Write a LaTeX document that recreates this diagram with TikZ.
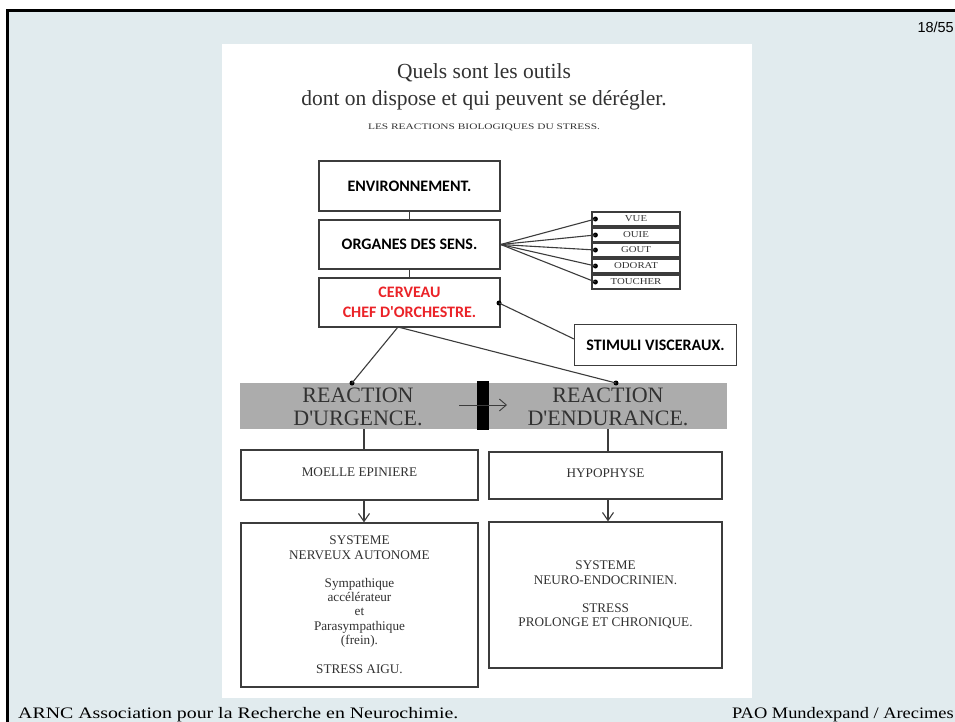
\documentclass[tikz,border=0pt]{standalone}
\usepackage{fontspec}
\usepackage{graphicx}
\setmainfont{Liberation Serif}
\newfontfamily\calibf{Carlito}
\newfontfamily\arialf{Liberation Sans}
\usetikzlibrary{arrows.meta,calc}
\definecolor{slidebg}{RGB}{225,235,238}
\definecolor{bandgray}{RGB}{172,172,172}
\definecolor{boxline}{RGB}{60,60,60}
\definecolor{inkgray}{RGB}{50,50,50}
\definecolor{alertred}{RGB}{235,35,40}
\newcommand{\apos}{\textquotesingle}
\newcommand{\widetext}[2]{\scalebox{#1}[1]{#2}}
\begin{document}
\begin{tikzpicture}[x=1pt,y=-1pt,
  box/.style={draw=boxline, line width=1.4pt, fill=white, inner sep=0pt, align=center},
  bigbox/.style={box, minimum width=181pt, minimum height=49pt,
    font=\calibf\bfseries\fontsize{16}{20}\selectfont},
  sensebox/.style={box, line width=1.2pt, minimum width=88pt, minimum height=14pt,
    text=inkgray, font=\fontsize{9}{10}\selectfont},
  lowbox/.style={box, line width=1.2pt, text=inkgray, font=\fontsize{13.2}{14.2}\selectfont},
  bandtext/.style={inner sep=0pt, align=center, text=inkgray, font=\fontsize{22}{23}\selectfont},
  wire/.style={draw=boxline, line width=1.1pt},
  dot/.style={circle, fill=black, inner sep=0pt, minimum size=5pt},
  varrow/.style={wire, -{Straight Barb[length=8pt,width=11pt,line width=1.1pt]}}
]
\useasboundingbox (0,0) rectangle (955,722);
% slide background and frame
\fill[white] (0,0) rectangle (955,722);
\fill[slidebg] (7,11) rectangle (955,722);
\draw[black, line width=3pt] (7,722) -- (7,11) -- (955,11);
\node[anchor=east, inner sep=0pt, font=\arialf\fontsize{14.5}{16}\selectfont] (pagenum) at (954,27) {18/55};
% white page
\fill[white] (222,44) rectangle (752,698);
% title
\node[inner sep=0pt, align=center, text=inkgray, font=\fontsize{21.5}{27}\selectfont] (title) at (484,87)
  {Quels sont les outils\\dont on dispose et qui peuvent se dérégler.};
\node[inner sep=0pt, text=inkgray, font=\fontsize{8.5}{10}\selectfont] (subtitle) at (484,127)
  {\widetext{1.34}{LES REACTIONS BIOLOGIQUES DU STRESS.}};
% main chain
\node[bigbox, minimum height=50pt] (env) at (409.5,186) {ENVIRONNEMENT.};
\node[bigbox] (org) at (409.5,244.5) {ORGANES DES SENS.};
\node[bigbox, text=alertred] (cerv) at (409.5,302.5) {CERVEAU\\CHEF D\apos ORCHESTRE.};
\draw[wire] (env.south) -- (org.north);
\draw[wire] (org.south) -- (cerv.north);
% senses
\node[sensebox] (vue) at (636,219) {\widetext{1.2}{VUE}};
\node[sensebox] (ouie) at (636,235) {\widetext{1.2}{OUIE}};
\node[sensebox] (gout) at (636,250) {\widetext{1.2}{GOUT}};
\node[sensebox] (odorat) at (636,266) {\widetext{1.2}{ODORAT}};
\node[sensebox] (toucher) at (636,282) {\widetext{1.2}{TOUCHER}};
\foreach \s in {vue,ouie,gout,odorat,toucher}{
  \node[dot] (d\s) at ($(\s.west)+(4,0)$) {};
  \draw[wire] (org.east) -- (d\s.center);
}
% visceral stimuli
\node[bigbox, minimum width=162pt, minimum height=41pt, text=black] (stim) at (655.5,345) {STIMULI VISCERAUX.};
\node[dot] (dcerv) at (499,303) {};
\coordinate (stimin) at (574,339);
\draw[wire] (dcerv.center) -- (stimin);
% reaction band
\node[fill=bandgray, minimum width=487pt, minimum height=46pt, inner sep=0pt] (band) at (483.5,406) {};
\node[bandtext] (urg) at (358,407) {REACTION\\D\apos URGENCE.};
\node[bandtext] (endu) at (608,407) {REACTION\\D\apos ENDURANCE.};
\node[fill=black, minimum width=12pt, minimum height=49pt, inner sep=0pt] (bar) at (483,405) {};
\coordinate (arrfrom) at (459,405);
\coordinate (arrto) at (507,405);
\draw[wire, line width=0.9pt, -{Straight Barb[length=7pt,width=12pt,line width=0.9pt]}] (arrfrom) -- (arrto);
\coordinate (cervout) at (398,327);
\node[dot] (durg) at (352,383) {};
\node[dot] (dend) at (616,383) {};
\draw[wire] (cervout) -- (durg.center);
\draw[wire] (cervout) -- (dend.center);
% lower boxes
\node[lowbox, minimum width=237pt, minimum height=50pt] (moelle) at (359.5,475) {\raisebox{5pt}{MOELLE EPINIERE}};
\node[lowbox, minimum width=233pt, minimum height=47pt] (hypo) at (605.5,475.5) {\raisebox{5pt}{HYPOPHYSE}};
\coordinate (urgout) at (364,429);
\coordinate (endout) at (608,429);
\draw[wire] (urgout) -- (urgout |- moelle.north);
\draw[wire] (endout) -- (endout |- hypo.north);
\node[lowbox, minimum width=237pt, minimum height=164pt] (sna) at (359.5,605)
  {SYSTEME\\NERVEUX AUTONOME\\[14.2pt]Sympathique\\accélérateur\\et\\Parasympathique\\(frein).\\[15pt]STRESS AIGU.};
\node[lowbox, minimum width=233pt, minimum height=146pt] (sne) at (605.5,595)
  {SYSTEME\\NEURO-ENDOCRINIEN.\\[14.2pt]STRESS\\PROLONGE ET CHRONIQUE.};
\draw[varrow] (moelle.south -| urgout) -- (sna.north -| urgout);
\draw[varrow] (hypo.south -| endout) -- (sne.north -| endout);
% footer
\node[anchor=base west, inner sep=0pt, font=\fontsize{16}{18}\selectfont] (footl) at (18,718)
  {\widetext{1.24}{ARNC Association pour la Recherche en Neurochimie.}};
\node[anchor=base east, inner sep=0pt, font=\fontsize{16}{18}\selectfont] (footr) at (954,718)
  {\widetext{1.15}{PAO Mundexpand / Arecimes}};
\end{tikzpicture}
\end{document}
